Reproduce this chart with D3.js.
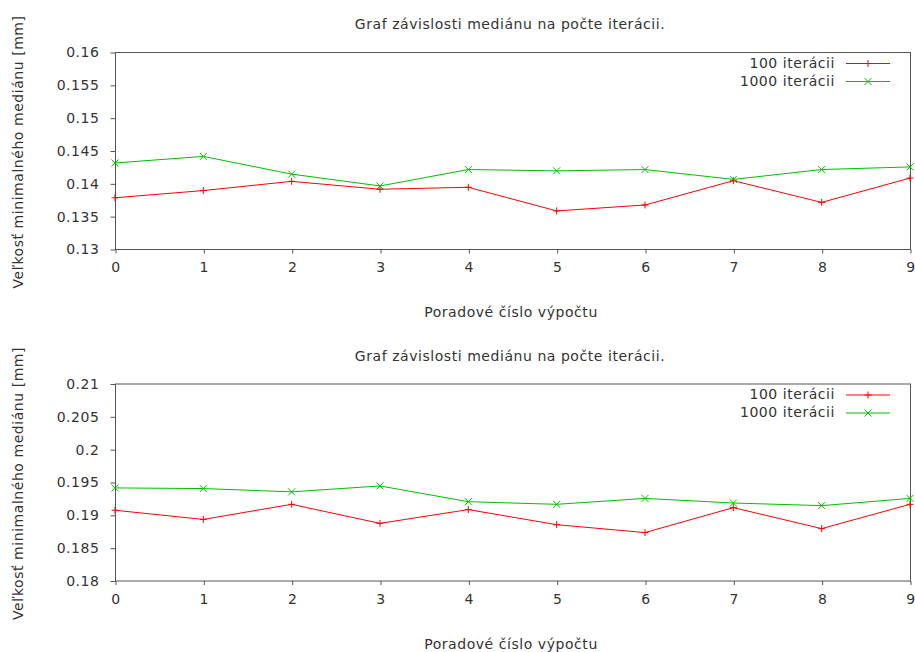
<!DOCTYPE html>
<html>
<head>
<meta charset="utf-8">
<script src="https://cdn.jsdelivr.net/npm/d3@7"></script>
<style>
  html, body { margin: 0; padding: 0; background: #fff; }
  svg text { font-family: "DejaVu Sans", sans-serif; fill: #333; letter-spacing: 0.55px; }
</style>
</head>
<body>
<svg id="chart" width="915" height="652"></svg>
<script>
// Run indices (x axis)
const runs = [0, 1, 2, 3, 4, 5, 6, 7, 8, 9];

// Panel 1: median values
const top100  = [0.1378, 0.1389, 0.1403, 0.1391, 0.1394, 0.1358, 0.1367, 0.1404, 0.1371, 0.1408];
const top1000 = [0.1431, 0.1441, 0.1414, 0.1396, 0.1421, 0.1419, 0.1421, 0.1406, 0.1421, 0.1425];
const topTicks = [0.13, 0.135, 0.14, 0.145, 0.15, 0.155, 0.16];

// Panel 2: median values
const bot100  = [0.1907, 0.1893, 0.1916, 0.1887, 0.1908, 0.1885, 0.1873, 0.1911, 0.1879, 0.1916];
const bot1000 = [0.1941, 0.1940, 0.1935, 0.1944, 0.1920, 0.1916, 0.1925, 0.1918, 0.1914, 0.1925];
const botTicks = [0.18, 0.185, 0.19, 0.195, 0.2, 0.205, 0.21];

const seriesNames = ["100 iterácii", "1000 iterácii"];
const seriesColors = ["#ff0000", "#00c000"];
const titleText = "Graf závislosti mediánu na počte iterácii.";
const xLabel = "Poradové číslo výpočtu";
const yLabel = "Veľkosť minimalného mediánu [mm]";

const svg = d3.select("#chart");
const axisColor = "#555";
const fontSize = 14;

function drawPanel(offsetY, s100, s1000, ticks) {
  const left = 115, right = 910, top = offsetY + 52, bottom = offsetY + 249;
  const g = svg.append("g");

  const x = d3.scaleLinear().domain([0, 9]).range([left, right]);
  const y = d3.scaleLinear().domain([ticks[0], ticks[ticks.length - 1]]).range([bottom, top]);

  // frame
  g.append("rect")
    .attr("x", left + 0.5).attr("y", top + 0.5)
    .attr("width", right - left).attr("height", bottom - top)
    .attr("fill", "none").attr("stroke", axisColor).attr("stroke-width", 1);

  // y axis
  const yAxis = g.append("g")
    .attr("transform", `translate(${left + 0.5},0.5)`)
    .call(d3.axisLeft(y).tickValues(ticks).tickSize(5).tickPadding(11)
      .tickFormat(d => d3.format("")(+d.toFixed(3))));
  yAxis.select(".domain").remove();
  yAxis.selectAll("line").attr("stroke", axisColor);
  yAxis.selectAll("text").attr("font-size", fontSize).attr("font-family", null).attr("fill", null);

  // x axis
  const xAxis = g.append("g")
    .attr("transform", `translate(0.5,${bottom + 0.5})`)
    .call(d3.axisBottom(x).tickValues(runs).tickSize(4).tickPadding(9).tickFormat(d3.format("d")));
  xAxis.select(".domain").remove();
  xAxis.selectAll("line").attr("stroke", axisColor);
  xAxis.selectAll("text").attr("font-size", fontSize).attr("font-family", null).attr("fill", null);

  // title
  g.append("text")
    .attr("x", 510).attr("y", offsetY + 29)
    .attr("text-anchor", "middle").attr("font-size", fontSize)
    .text(titleText);

  // x label
  g.append("text")
    .attr("x", 511).attr("y", offsetY + 317)
    .attr("text-anchor", "middle").attr("font-size", fontSize)
    .text(xLabel);

  // y label
  g.append("text")
    .attr("transform", `translate(23,${offsetY + 152}) rotate(-90)`)
    .attr("text-anchor", "middle").attr("font-size", fontSize)
    .text(yLabel);

  const line = d3.line().x((d, i) => x(runs[i])).y(d => y(d));
  const data = [s100, s1000];

  data.forEach((vals, si) => {
    g.append("path")
      .datum(vals)
      .attr("d", line)
      .attr("fill", "none")
      .attr("stroke", seriesColors[si])
      .attr("stroke-width", 1);

    g.append("g").selectAll("path")
      .data(vals).join("path")
      .attr("d", (d, i) => marker(si, x(runs[i]), y(d)))
      .attr("fill", "none")
      .attr("stroke", seriesColors[si])
      .attr("stroke-width", 1);
  });

  // legend
  const lg = g.append("g");
  seriesNames.forEach((name, si) => {
    const ly = offsetY + 63 + si * 18;
    lg.append("text")
      .attr("x", 835).attr("y", ly).attr("dy", "0.35em")
      .attr("text-anchor", "end").attr("font-size", fontSize)
      .text(name);
    lg.append("line")
      .attr("x1", 846).attr("x2", 890)
      .attr("y1", ly + 0.5).attr("y2", ly + 0.5)
      .attr("stroke", seriesColors[si]).attr("stroke-width", 1);
    lg.append("path")
      .attr("d", marker(si, 868, ly + 0.5))
      .attr("fill", "none").attr("stroke", seriesColors[si]).attr("stroke-width", 1);
  });
}

function marker(kind, cx, cy) {
  const r = 3.5;
  if (kind === 0) {
    return `M${cx - r},${cy}H${cx + r}M${cx},${cy - r}V${cy + r}`;
  }
  return `M${cx - r},${cy - r}L${cx + r},${cy + r}M${cx - r},${cy + r}L${cx + r},${cy - r}`;
}

drawPanel(0, top100, top1000, topTicks);
drawPanel(331.5, bot100, bot1000, botTicks);
</script>
</body>
</html>
